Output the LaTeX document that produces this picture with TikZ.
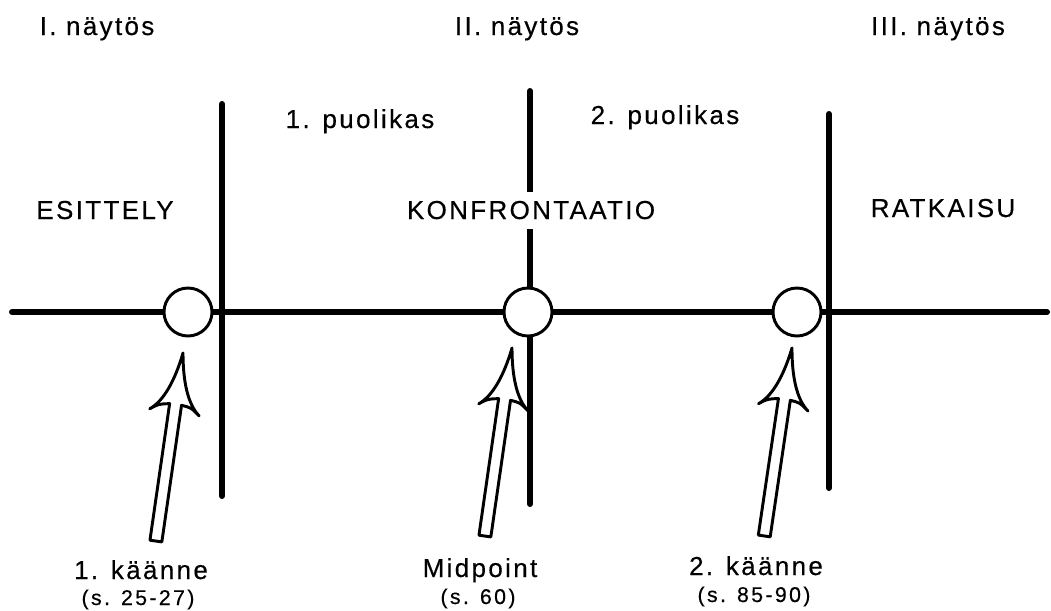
\documentclass[tikz,border=0pt]{standalone}
\usepackage{fontspec}
\setmainfont{Liberation Sans}
\newfontfamily\lblfont{Liberation Sans}[LetterSpace=9,FakeBold=0.4]
\newfontfamily\sublblfont{Liberation Sans}[LetterSpace=11,FakeBold=0.4]
\begin{document}
\begin{tikzpicture}[x=0.75pt,y=-0.75pt,
  lbl/.style={anchor=base,inner sep=0pt,font=\lblfont\fontsize{19.5pt}{22pt}\selectfont},
  sublbl/.style={anchor=base,inner sep=0pt,font=\sublblfont\fontsize{16pt}{18pt}\selectfont},
  bar/.style={line width=4.5pt,line cap=round},
  turn/.style={circle,draw,fill=white,line width=2.2pt,minimum size=36pt,inner sep=0pt},
  harrow/.pic={\draw[line width=2.2pt,fill=white,line join=round]
     (0,0) .. controls (-4,28) and (-12,50) .. (-25,60)
     .. controls (-17,54) .. (-6,52) -- (-6,190) -- (6,190) -- (6,52)
     .. controls (16,53) .. (25,60)
     .. controls (12,50) and (4,28) .. (0,0) -- cycle;}]
\useasboundingbox (0,0) rectangle (1051,611);
% timeline
\coordinate (L) at (12,312);
\coordinate (R) at (1047,312);
\draw[bar] (L) -- (R);
% act dividers
\coordinate (v1t) at (222,104); \coordinate (v1b) at (222,496);
\coordinate (v2t) at (530,91);  \coordinate (v2b) at (530,504);
\coordinate (v3t) at (829,114); \coordinate (v3b) at (829,488);
\draw[bar] (v1t) -- (v1b);
\draw[bar] (v2t) -- (v2b);
\draw[bar] (v3t) -- (v3b);
% turning points
\node[turn] (c1) at (188,312) {};
\node[turn] (c2) at (528,312) {};
\node[turn] (c3) at (797,312) {};
% arrows
\coordinate (t1) at (183,353);
\coordinate (t2) at (512,348);
\coordinate (t3) at (792,348);
\pic[rotate=-8.2] at (t1) {harrow};
\pic[rotate=-8.2] at (t2) {harrow};
\pic[rotate=-8.4] at (t3) {harrow};
% labels
\node[lbl] (a1) at (97,35) {I. näytös};
\node[lbl] (a2) at (517,35) {II. näytös};
\node[lbl] (a3) at (938,35) {III. näytös};
\node[lbl] (p1) at (360,128) {1. puolikas};
\node[lbl] (p2) at (665,124) {2. puolikas};
\node[lbl] (s1) at (105,219) {ESITTELY};
\node[lbl,fill=white,inner xsep=2pt,inner ysep=7pt] (s2) at (531,219) {KONFRONTAATIO};
\node[lbl] (s3) at (943,217) {RATKAISU};
\node[lbl] (k1) at (141,579) {1. käänne};
\node[sublbl] (k1s) at (138,605) {(s. 25-27)};
\node[lbl] (k2) at (480,577) {Midpoint};
\node[sublbl] (k2s) at (478,604) {(s. 60)};
\node[lbl] (k3) at (756,575) {2. käänne};
\node[sublbl] (k3s) at (754,602) {(s. 85-90)};
\end{tikzpicture}
\end{document}
